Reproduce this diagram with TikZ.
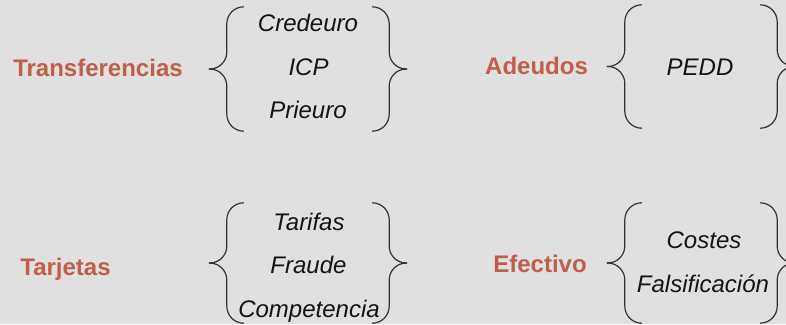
\documentclass[tikz,border=0pt]{standalone}
\usepackage{fontspec}
\setmainfont{Liberation Sans}
\usetikzlibrary{calc, positioning}
\definecolor{pmrust}{RGB}{190,95,76}
\definecolor{pmbg}{RGB}{224,224,224}
\tikzset{
  pmcat/.style={font=\fontsize{24}{28}\selectfont\bfseries, text=pmrust, anchor=base, inner sep=0pt},
  pmitem/.style={font=\fontsize{24}{28}\selectfont\itshape, text=black!92, anchor=base, inner sep=0pt},
  pmgroup/.style={rectangle, inner sep=0pt},
  pmbrace/.style={draw=black!80, line width=1.2pt, rounded corners=17pt},
}
\begin{document}
\begin{tikzpicture}[x=1pt, y=-1pt]
  \fill[pmbg] (0,0) rectangle (786,324);
  \useasboundingbox (0,0) rectangle (786,324);
  \clip (0,0) rectangle (786,324);

  % Categories.
  \node[pmcat] (transf) at (98,76) {Transferencias};
  \node[pmcat] (adeud) at (536.5,74) {Adeudos};
  \node[pmcat] (tarj) at (65.5,275) {Tarjetas};
  \node[pmcat] (efect) at (540,272) {Efectivo};

  % Groups between the braces.
  \node[pmgroup, minimum width=128pt, minimum height=124pt] (g_transf) at (308,69) {};
  \node[pmgroup, minimum width=118pt, minimum height=123pt] (g_adeud) at (701,66.5) {};
  \node[pmgroup, minimum width=128pt, minimum height=120pt] (g_tarj) at (308,263) {};
  \node[pmgroup, minimum width=118pt, minimum height=120pt] (g_efect) at (701,263) {};

  % Items.
  \node[pmitem] (credeuro) at (308,31.5) {Credeuro};
  \node[pmitem] (icp) at (308.5,75) {ICP};
  \node[pmitem] (prieuro) at (308,118) {Prieuro};
  \node[pmitem] (pedd) at (700,75) {PEDD};
  \node[pmitem] (tarifas) at (309,230) {Tarifas};
  \node[pmitem] (fraude) at (308.5,273) {Fraude};
  \node[pmitem] (compet) at (309,317) {Competencia};
  \node[pmitem] (costes) at (704,248) {Costes};
  \node[pmitem] (falsif) at (703,292) {Falsificación};

  % Braces.
  \foreach \g in {g_transf, g_adeud, g_tarj, g_efect} {
    \draw[pmbrace] (\g.north west) -- ++(-17,0) |- ($(\g.west)+(-35,0)$);
    \draw[pmbrace] (\g.south west) -- ++(-17,0) |- ($(\g.west)+(-35,0)$);
    \draw[pmbrace] (\g.north east) -- ++(17,0) |- ($(\g.east)+(35,0)$);
    \draw[pmbrace] (\g.south east) -- ++(17,0) |- ($(\g.east)+(35,0)$);
  }
\end{tikzpicture}
\end{document}
